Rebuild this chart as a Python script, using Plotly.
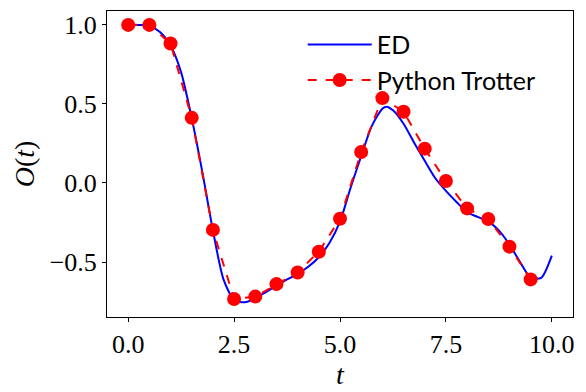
import plotly.graph_objects as go

# exact diagonalisation curve
ED_T = [0.0, 0.25, 0.5, 0.75, 1.0, 1.25, 1.5, 1.75, 2.0, 2.25, 2.5, 2.75,
        3.0, 3.25, 3.5, 3.75, 4.0, 4.25, 4.5, 4.75, 5.0, 5.25, 5.5, 5.75,
        6.0, 6.1, 6.25, 6.5, 6.75, 7.0, 7.25, 7.5, 7.75, 8.0, 8.25, 8.5,
        8.75, 9.0, 9.25, 9.5, 9.75, 10.0]
ED_O = [1.0, 1.0, 0.995, 0.955, 0.87, 0.70, 0.41, 0.07, -0.30, -0.61, -0.74, -0.755,
        -0.73, -0.69, -0.65, -0.61, -0.575, -0.53, -0.47, -0.38, -0.245, -0.03, 0.17, 0.36,
        0.47, 0.483, 0.46, 0.375, 0.255, 0.14, 0.03, -0.05, -0.12, -0.185, -0.215, -0.245,
        -0.30, -0.39, -0.50, -0.60, -0.60, -0.46]

# trotterised simulation
TROTTER_T = [0.0, 0.5, 1.0, 1.5, 2.0, 2.5, 3.0, 3.5, 4.0, 4.5,
             5.0, 5.5, 6.0, 6.5, 7.0, 7.5, 8.0, 8.5, 9.0, 9.5]
TROTTER_O = [1.0, 1.0, 0.882, 0.412, -0.297, -0.734, -0.719, -0.640, -0.566, -0.435,
             -0.226, 0.196, 0.537, 0.451, 0.217, 0.012, -0.161, -0.228, -0.403, -0.610]

X_TICKS = [0.0, 2.5, 5.0, 7.5, 10.0]
Y_TICKS = [-0.5, 0.0, 0.5, 1.0]

SERIF = "Liberation Serif, DejaVu Serif, serif"
SANS = "Lato, DejaVu Sans, sans-serif"

fig = go.Figure()
fig.add_trace(
    go.Scatter(
        x=ED_T,
        y=ED_O,
        name="ED",
        mode="lines",
        line=dict(color="#0000ff", width=2, shape="spline", smoothing=0.7),
        legendgroup="ed",
    )
)
fig.add_trace(
    go.Scatter(
        x=TROTTER_T,
        y=TROTTER_O,
        name="Python Trotter",
        mode="lines+markers",
        line=dict(color="#ff0000", width=2, dash="dash"),
        marker=dict(color="#ff0000", size=14),
        legendgroup="trotter",
    )
)

axis_style = dict(
    showgrid=False,
    zeroline=False,
    showline=True,
    linecolor="black",
    linewidth=1,
    mirror=True,
    ticks="outside",
    ticklen=4,
    tickwidth=1,
    tickcolor="black",
    automargin=False,
    tickfont=dict(family=SERIF, size=26, color="black"),
)

fig.update_xaxes(
    range=[-0.5, 10.5],
    tickvals=X_TICKS,
    ticktext=[f"{v:.1f}" for v in X_TICKS],
    title=dict(text="<i>t</i>", font=dict(family=SERIF, size=28, color="black"), standoff=0),
    **axis_style,
)
fig.update_yaxes(
    range=[-0.848, 1.088],
    tickvals=Y_TICKS,
    ticktext=["\u22120.5", "0.0", "0.5", "1.0"],
    title=dict(text="<i>O</i>(<i>t</i>)", font=dict(family=SERIF, size=28, color="black"), standoff=6),
    **axis_style,
)

# page body keeps its default 8px margin, so the figure is a little smaller than the window
fig.update_layout(
    width=578,
    height=384,
    paper_bgcolor="white",
    plot_bgcolor="white",
    margin=dict(l=99, r=13, t=3, b=75),
    showlegend=True,
    legend=dict(
        x=0.42,
        y=0.965,
        xanchor="left",
        yanchor="top",
        bgcolor="rgba(0,0,0,0)",
        font=dict(family=SANS, size=25, color="black"),
        traceorder="grouped",
        tracegroupgap=0,
        itemwidth=64,
    ),
)

fig.write_html("out.html")
